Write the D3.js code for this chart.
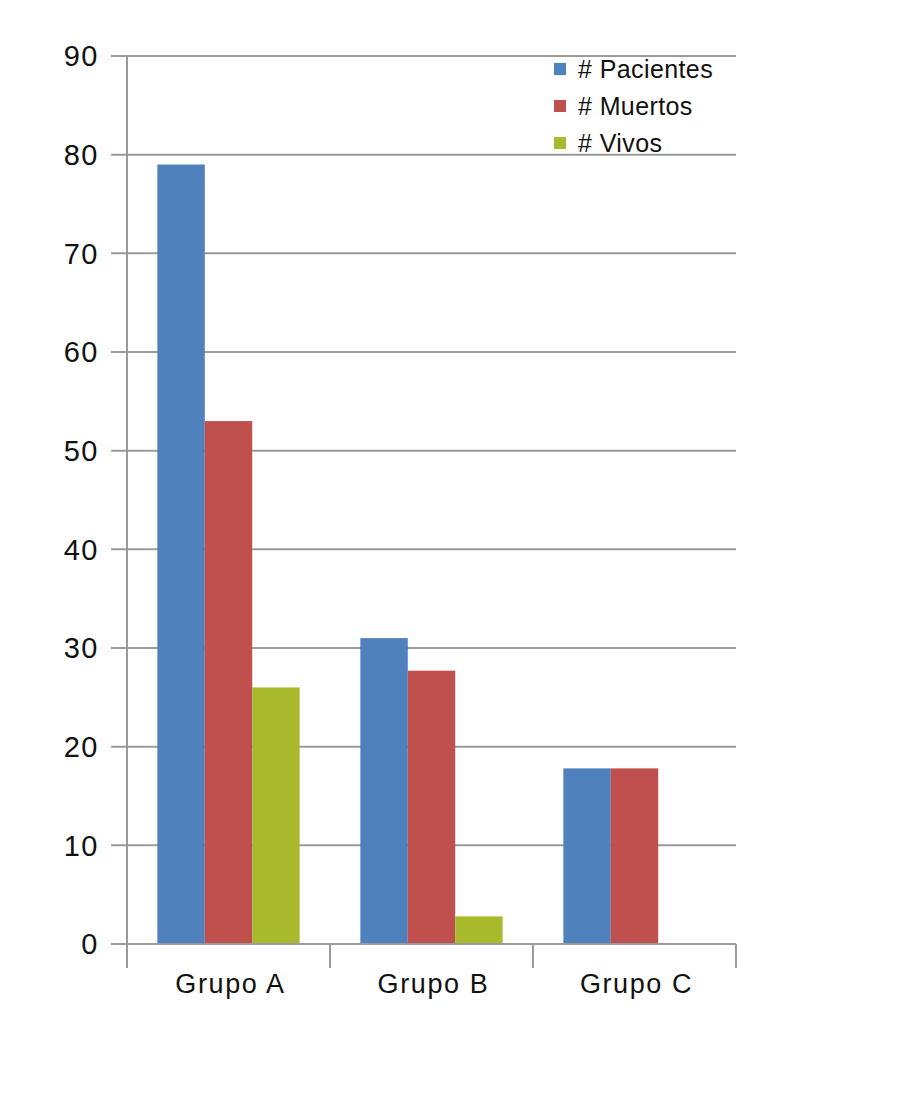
<!DOCTYPE html>
<html><head><meta charset="utf-8">
<script src="https://cdn.jsdelivr.net/npm/d3@7"></script>
<style>body{margin:0;background:#fff;} svg{display:block;font-family:"Liberation Sans",Arial,Helvetica,sans-serif;}</style>
</head><body>
<svg id="c" width="916" height="1116"></svg>
<script>
const categories = ["Grupo A", "Grupo B", "Grupo C"];
const seriesNames = ["# Pacientes", "# Muertos", "# Vivos"];
const pacientes = [79, 31, 17.8];
const muertos = [53, 27.7, 17.8];
const vivos = [26, 2.8, 0];
const yTicks = [0, 10, 20, 30, 40, 50, 60, 70, 80, 90];
const colors = ["#4F81BD", "#C0504D", "#A9B92E"];

const series = [pacientes, muertos, vivos];
const svg = d3.select("#c");
const x0 = 127, x1 = 736, yTop = 56, yBot = 944;

const x = d3.scaleBand().domain(categories).range([x0, x1]).paddingInner(0).paddingOuter(0);
const xs = d3.scaleBand().domain(seriesNames).range([0, x.bandwidth()]).paddingInner(0).paddingOuter(0.64);
const y = d3.scaleLinear().domain([0, 90]).range([yBot, yTop]);

// gridlines
svg.append("g").selectAll("line").data(yTicks).join("line")
  .attr("x1", 111).attr("x2", x1)
  .attr("y1", d => y(d)).attr("y2", d => y(d))
  .attr("stroke", "#9a9a9a").attr("stroke-width", 2);

// bars
const g = svg.append("g");
categories.forEach((c, i) => {
  seriesNames.forEach((s, j) => {
    const v = series[j][i];
    if (v <= 0) return;
    g.append("rect")
      .attr("x", x(c) + xs(s)).attr("width", xs.bandwidth())
      .attr("y", y(v)).attr("height", y(0) - y(v))
      .attr("fill", colors[j]);
  });
});

// y axis line
svg.append("line").attr("x1", x0).attr("x2", x0).attr("y1", yTop).attr("y2", 968)
  .attr("stroke", "#9a9a9a").attr("stroke-width", 2);
// x axis line + ticks
svg.append("line").attr("x1", x0).attr("x2", x1).attr("y1", yBot).attr("y2", yBot)
  .attr("stroke", "#9a9a9a").attr("stroke-width", 2);
const xTickPos = categories.map(c => x(c)).concat([x1]);
svg.append("g").selectAll("line").data(xTickPos).join("line")
  .attr("x1", d => d).attr("x2", d => d).attr("y1", yBot).attr("y2", 968)
  .attr("stroke", "#9a9a9a").attr("stroke-width", 2);

// y labels
svg.append("g").selectAll("text").data(yTicks).join("text")
  .attr("x", 99).attr("y", d => y(d)).attr("dy", "0.36em")
  .attr("text-anchor", "end").attr("font-size", 29).attr("letter-spacing", 1.5).attr("fill", "#111")
  .text(d => d);

// x labels
svg.append("g").selectAll("text").data(categories).join("text")
  .attr("x", d => x(d) + x.bandwidth() / 2 + 2).attr("y", 993)
  .attr("text-anchor", "middle").attr("font-size", 27).attr("letter-spacing", 1.6).attr("fill", "#111")
  .text(d => d);

// legend
const leg = svg.append("g");
seriesNames.forEach((s, j) => {
  const cy = 69 + j * 37;
  leg.append("rect").attr("x", 554).attr("y", cy - 6).attr("width", 12).attr("height", 12).attr("fill", colors[j]);
  leg.append("text").attr("x", 578).attr("y", cy).attr("dy", "0.36em")
    .attr("font-size", 25).attr("letter-spacing", 0.4).attr("fill", "#111").text(s);
});
</script>
</body></html>
